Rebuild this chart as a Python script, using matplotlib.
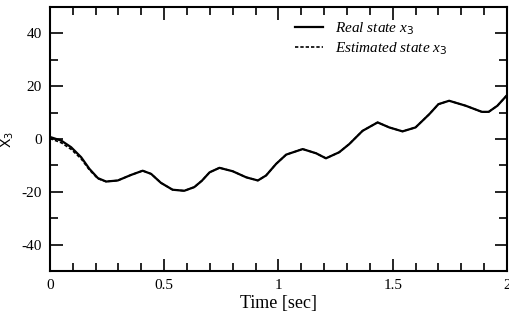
import numpy as np
import matplotlib
matplotlib.use("Agg")
import matplotlib.pyplot as plt
from matplotlib.ticker import MultipleLocator

# values
time = [0.000, 0.050, 0.093, 0.137, 0.173, 0.210, 0.246, 0.297, 0.355, 0.406,
        0.443, 0.486, 0.537, 0.588, 0.632, 0.665, 0.699, 0.742, 0.800, 0.859,
        0.910, 0.946, 0.990, 1.034, 1.106, 1.165, 1.208, 1.266, 1.310, 1.368,
        1.434, 1.485, 1.543, 1.600, 1.660, 1.700, 1.747, 1.820, 1.890, 1.920,
        1.958, 2.000]
real_x3 = [0.8, -0.6, -3.1, -6.9, -11.3, -14.8, -16.1, -15.7, -13.6, -12.0,
           -13.2, -16.6, -19.2, -19.6, -18.2, -15.8, -12.6, -10.9, -12.2, -14.5,
           -15.7, -13.8, -9.4, -5.9, -3.8, -5.4, -7.3, -5.0, -1.9, 3.1,
           6.3, 4.4, 2.9, 4.4, 9.4, 13.2, 14.5, 12.6, 10.3, 10.3,
           12.6, 16.6]
est_x3 = [0.2, -1.4, -3.9, -7.5, -11.7, -15.0, -16.1, -15.7, -13.6, -12.0,
          -13.2, -16.6, -19.2, -19.6, -18.2, -15.8, -12.6, -10.9, -12.2, -14.5,
          -15.7, -13.8, -9.4, -5.9, -3.8, -5.4, -7.3, -5.0, -1.9, 3.1,
          6.3, 4.4, 2.9, 4.4, 9.4, 13.2, 14.5, 12.6, 10.3, 10.3,
          12.6, 16.6]

plt.rcParams["font.family"] = ["Liberation Serif", "DejaVu Serif"]
plt.rcParams["axes.unicode_minus"] = False

fig = plt.figure(figsize=(5.09, 3.2), dpi=100)
ax = fig.add_axes([0.098, 0.153, 0.898, 0.825])

ax.plot(time, real_x3, color="black", lw=1.6, label="Real state x$_3$")
ax.plot(time, est_x3, color="black", lw=1.2, ls=(0, (2, 1.2)), label="Estimated state x$_3$")

ax.set_xlim(0, 2)
ax.set_ylim(-50, 50)
ax.xaxis.set_major_locator(MultipleLocator(0.5))
ax.xaxis.set_minor_locator(MultipleLocator(0.1))
ax.yaxis.set_major_locator(MultipleLocator(20))
ax.yaxis.set_minor_locator(MultipleLocator(10))
ax.xaxis.set_major_formatter(plt.FuncFormatter(lambda v, p: f"{v:g}"))
ax.tick_params(which="both", direction="in", top=True, right=True, width=1.2, labelsize=11)
ax.tick_params(which="major", length=9, pad=6)
ax.tick_params(which="minor", length=5.5)
for s in ax.spines.values():
    s.set_linewidth(1.5)

ax.set_xlabel("Time [sec]", fontsize=13, labelpad=2)
ax.set_ylabel("X$_3$", family="DejaVu Sans", fontsize=10, labelpad=0)
ax.yaxis.set_label_coords(-0.075, 0.5)

leg = ax.legend(loc="upper right", bbox_to_anchor=(0.9, 1.0), frameon=False,
                handlelength=1.8, labelspacing=0.2,
                prop={"style": "italic", "size": 11})

fig.savefig("out.png", dpi=100)
